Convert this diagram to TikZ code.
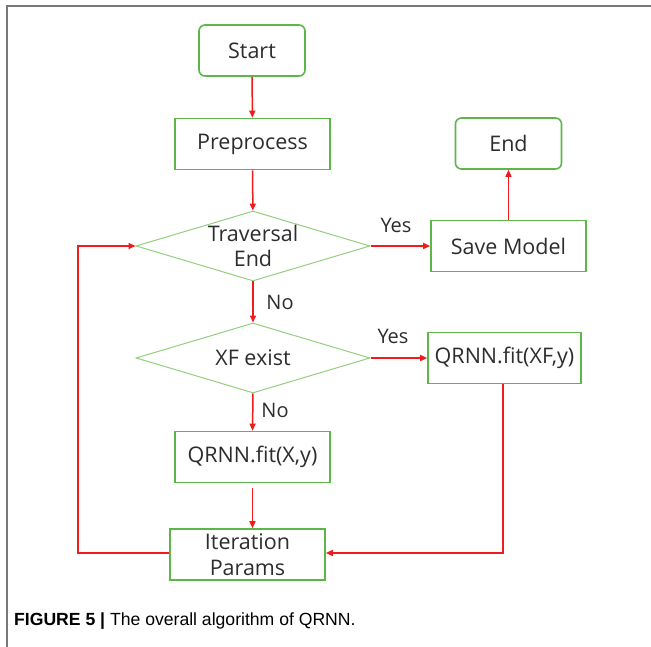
\documentclass[tikz,border=0pt]{standalone}
\usepackage{fontspec}
\setmainfont{Open Sans}
\newfontfamily\capfont{Liberation Sans}
\usetikzlibrary{arrows.meta,shapes.geometric}
\definecolor{boxgreen}{RGB}{92,182,72}
\definecolor{diagreen}{RGB}{150,206,128}
\definecolor{arrred}{RGB}{240,28,28}
\definecolor{txtgray}{RGB}{45,45,45}
\definecolor{framegray}{RGB}{120,120,120}
\tikzset{
  lbl/.style={font=\fontsize{21.5}{25.5}\selectfont, text=txtgray, align=center, inner sep=0pt},
  termbox/.style={draw=boxgreen, line width=1.6pt, rounded corners=6pt, minimum width=106pt, minimum height=51pt, inner sep=0pt, lbl},
  procbox/.style={draw=boxgreen, line width=1.6pt, minimum width=155pt, minimum height=51pt, inner sep=0pt, lbl},
  decision/.style={draw=diagreen, line width=1pt, diamond, minimum width=234pt, minimum height=70pt, inner sep=0pt},
  flow/.style={draw=arrred, line width=1.5pt, -{Triangle[length=7pt,width=6pt]}},
  yesno/.style={font=\fontsize{20}{23}\selectfont, text=txtgray, inner sep=0pt}
}
\begin{document}
\begin{tikzpicture}[x=1pt,y=-1pt]
\useasboundingbox (0,0) rectangle (651,647);
\fill[white] (0,0) rectangle (651,647);
\draw[framegray, line width=1.5pt] (7,647) -- (7,6) -- (651,6);

\node[termbox] (start) at (252,50.5) {Start};
\node[procbox] (prep) at (252.5,144) {Preprocess};
\node[termbox] (end) at (508.5,143.5) {End};
\node[decision] (trav) at (253,246) {};
\node[lbl] (travtxt) at (253,246) {Traversal\\End};
\node[procbox] (save) at (508.5,246) {Save Model};
\node[decision] (xf) at (253,358) {};
\node[lbl] (xftxt) at (253,358) {XF exist};
\node[procbox, minimum width=153pt] (fitxf) at (504.5,358) {QRNN.fit(XF,y)};
\node[procbox] (fitx) at (252.5,457) {QRNN.fit(X,y)};
\node[procbox] (iter) at (247.5,554.5) {Iteration\\Params};

\coordinate (loopL) at (78,553);
\coordinate (loopT) at (78,246);
\coordinate (xfdown) at (503,553);

\draw[flow] (start) -- (prep);
\draw[flow] (prep) -- (trav);
\draw[flow] (trav.east) -- (save.west);
\draw[flow] (save) -- (end);
\draw[flow] (trav.south) -- (xf.north);
\draw[flow] (xf.east) -- (fitxf.west);
\draw[flow] (xf.south) -- (fitx.north);
\draw[flow] (fitx.south) ++(0,5) -- (iter.north -| fitx.south);
\draw[flow] (fitxf.south -| xfdown) -- (xfdown) -- (iter.east |- xfdown);
\draw[flow] (iter.west |- loopL) -- (loopL) -- (loopT) -- (trav.west);

\node[yesno] (yes1) at (396,225) {Yes};
\node[yesno] (no1) at (280,302) {No};
\node[yesno] (yes2) at (393,336) {Yes};
\node[yesno] (no2) at (275,410) {No};

\node[anchor=west, inner sep=0pt, font=\capfont\fontsize{17.6}{21}\selectfont] (cap) at (14,621) {\textbf{FIGURE 5 |} The overall algorithm of QRNN.};
\end{tikzpicture}
\end{document}
